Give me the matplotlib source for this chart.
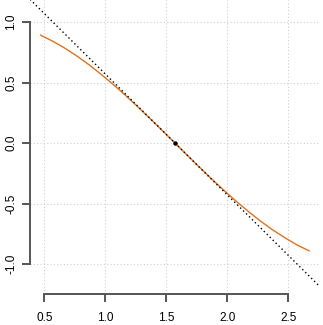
import matplotlib
matplotlib.use("Agg")
import matplotlib.pyplot as plt

# data
curve_x = [0.47, 0.57, 0.67, 0.77, 0.87, 0.97, 1.07, 1.17, 1.27, 1.37, 1.47, 1.57,
           1.67, 1.77, 1.87, 1.97, 2.07, 2.17, 2.27, 2.37, 2.47, 2.57, 2.67]
curve_y = [0.892, 0.842, 0.784, 0.718, 0.645, 0.565, 0.480, 0.390, 0.296, 0.199, 0.101, 0.001,
           -0.099, -0.198, -0.295, -0.389, -0.479, -0.564, -0.644, -0.717, -0.782, -0.842, -0.891]
tangent_x = [0.383, 2.759]
tangent_y = [1.188, -1.188]
point_x = [1.571]
point_y = [0.0]
xticks = [0.5, 1.0, 1.5, 2.0, 2.5]
yticks = [-1.0, -0.5, 0.0, 0.5, 1.0]

plt.rcParams['font.family'] = ['Liberation Sans', 'DejaVu Sans']

W, H = 323, 325
fig = plt.figure(figsize=(W / 100, H / 100), dpi=100)
left, right, bottom, top = 30, 320, 294, 0
ax = fig.add_axes([left / W, (H - bottom) / H, (right - left) / W, (bottom - top) / H])
ax.set_xlim(0.383, 2.759)
ax.set_ylim(-1.248, 1.183)

for xv in xticks:
    ax.axvline(xv, color='#d0d0d0', lw=0.8, ls=(0, (1, 2)), zorder=0)
for yv in yticks:
    ax.axhline(yv, color='#d0d0d0', lw=0.8, ls=(0, (1, 2)), zorder=0)

ax.plot(curve_x, curve_y, color='#E2711D', lw=1.0, zorder=2)
ax.plot(tangent_x, tangent_y, color='black', lw=1.0, ls=(0, (1, 2)), zorder=3)
ax.plot(point_x, point_y, 'o', color='black', ms=2.2, zorder=4)

for s in ['top', 'right']:
    ax.spines[s].set_visible(False)
for s in ['left', 'bottom']:
    ax.spines[s].set_color('#555555')
    ax.spines[s].set_linewidth(1.4)
ax.spines['left'].set_bounds(-1, 1)
ax.spines['bottom'].set_bounds(0.5, 2.5)

ax.set_xticks(xticks)
ax.set_yticks(yticks)
ax.set_xticklabels([f"{v:.1f}" for v in xticks])
ax.set_yticklabels([f"{v:.1f}" for v in yticks], rotation=90, va='center')
ax.tick_params(axis='both', direction='out', length=6, width=1.4, color='#555555',
               labelsize=8.5, labelcolor='black')
ax.tick_params(axis='x', pad=7)
ax.tick_params(axis='y', pad=3)
ax.patch.set_visible(False)

fig.savefig('out.png', dpi=100)
